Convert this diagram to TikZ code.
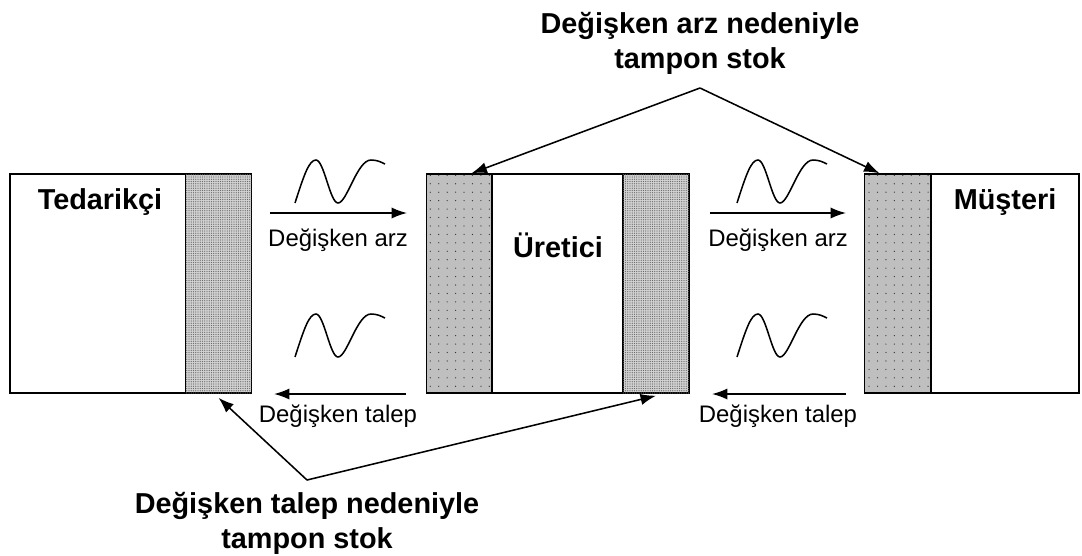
\documentclass[tikz,border=0pt]{standalone}
\usepackage{fontspec}
\setmainfont{Liberation Sans}
\usetikzlibrary{positioning, arrows.meta, patterns.meta}

\begin{document}
\begin{tikzpicture}[
    x=0.025cm, y=-0.025cm,
    >={Latex[length=11pt,width=8pt]},
    box/.style={draw, line width=1pt, fill=white, minimum height=5.475cm, inner sep=0pt},
    buffer/.style={box, minimum width=1.65cm, fill=gray!50,
        postaction={pattern={Dots[distance=6pt, radius=0.45pt]}, pattern color=black!80}},
    densebuffer/.style={box, minimum width=1.65cm, fill=gray!35,
        postaction={pattern={Dots[distance=1.6pt, radius=0.45pt]}, pattern color=gray!80!black}},
    title/.style={font=\fontsize{20.5}{25}\selectfont\bfseries, align=center},
    flow/.style={font=\fontsize{17}{20}\selectfont},
    link/.style={->, line width=1.1pt},
    wave/.pic={
        \draw[line width=1.1pt] (0,0) .. controls (9,-28) and (14,-43) .. (21,-43)
            .. controls (29,-43) and (35,0) .. (43,0)
            .. controls (52,0) and (62,-43) .. (76,-43)
            .. controls (82,-43) and (86,-41) .. (90,-39);
    }
]

\useasboundingbox (0,0) rectangle (1082,555);

% boxes
\node[box, minimum width=4.4cm] (ted) at (98,283.5) {};
\node[densebuffer] (tedbuf) at (218.5,283.5) {};

\node[buffer] (uretbufL) at (459.5,283.5) {};
\node[box, minimum width=3.275cm] (uret) at (557.5,283.5) {};
\node[densebuffer] (uretbufR) at (656,283.5) {};

\node[buffer] (musbuf) at (897.5,283.5) {};
\node[box, minimum width=3.7cm] (mus) at (1005,283.5) {};

\node[title] (tedtext) at (100,202) {Tedarikçi};
\node[title] (urettext) at (558,245) {Üretici};
\node[title] (mustext) at (1005,202) {Müşteri};

% flows
\node[flow] (arz1) at (338,240) {Değişken arz};
\node[flow] (arz2) at (778,240) {Değişken arz};
\node[flow] (talep1) at (338,416) {Değişken talep};
\node[flow] (talep2) at (778,416) {Değişken talep};

\coordinate (arz1a) at (270,213);
\coordinate (arz1b) at (407,213);
\coordinate (arz2a) at (710,213);
\coordinate (arz2b) at (846,213);
\coordinate (talep1a) at (406,394);
\coordinate (talep1b) at (274,394);
\coordinate (talep2a) at (846,394);
\coordinate (talep2b) at (712,394);

\draw[link] (arz1a) -- (arz1b);
\draw[link] (arz2a) -- (arz2b);
\draw[link] (talep1a) -- (talep1b);
\draw[link] (talep2a) -- (talep2b);

\pic at (295,203) {wave};
\pic at (737,203) {wave};
\pic at (295,357) {wave};
\pic at (737,357) {wave};

% buffer labels
\node[title] (arzstok) at (700,43) {Değişken arz nedeniyle\\tampon stok};
\node[title] (talepstok) at (307,523) {Değişken talep nedeniyle\\tampon stok};

\coordinate (arztop) at (700,88);
\coordinate (talepbot) at (307,480);

\draw[link] (arztop) -- ([xshift=0.3cm]uretbufL.north);
\draw[link] (arztop) -- ([xshift=-0.45cm]musbuf.north);
\draw[link] (talepbot) -- ([yshift=-0.1cm]tedbuf.south);
\draw[link] (talepbot) -- ([yshift=-0.05cm]uretbufR.south);

\end{tikzpicture}
\end{document}
